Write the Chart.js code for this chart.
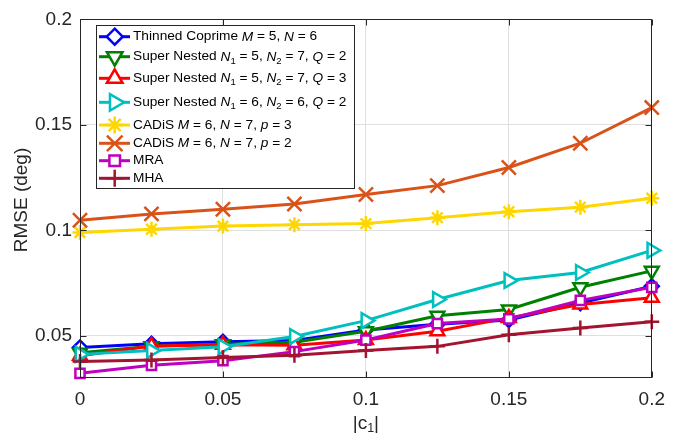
<!DOCTYPE html>
<html><head><meta charset="utf-8">
<script src="https://cdn.jsdelivr.net/npm/chart.js@4.4.1/dist/chart.umd.min.js"></script>
<style>html,body{margin:0;padding:0;background:#fff}canvas{display:block}</style>
</head><body>
<canvas id="c" width="675" height="439"></canvas>
<script>
// ---- data ----
const xValues = [0, 0.025, 0.05, 0.075, 0.1, 0.125, 0.15, 0.175, 0.2];
const thinnedCoprime = [0.0445, 0.0462, 0.0472, 0.0478, 0.0528, 0.0555, 0.0575, 0.0655, 0.0735];
const superNestedQ2 = [0.0420, 0.0450, 0.0460, 0.0470, 0.0522, 0.0595, 0.0625, 0.0730, 0.0808];
const superNestedQ3 = [0.0405, 0.0452, 0.0458, 0.0455, 0.0480, 0.0522, 0.0585, 0.0648, 0.0680];
const superNested66 = [0.0412, 0.0430, 0.0448, 0.0497, 0.0572, 0.0672, 0.0762, 0.0800, 0.0905];
const cadisP3 = [0.0990, 0.1005, 0.1020, 0.1027, 0.1032, 0.1060, 0.1088, 0.1110, 0.1152];
const cadisP2 = [0.1048, 0.1078, 0.1100, 0.1125, 0.1170, 0.1212, 0.1298, 0.1413, 0.1582];
const mra = [0.0322, 0.0360, 0.0382, 0.0425, 0.0480, 0.0558, 0.0580, 0.0668, 0.0730];
const mha = [0.0378, 0.0385, 0.0397, 0.0408, 0.0430, 0.0450, 0.0505, 0.0537, 0.0567];
const xTicks = [0, 0.05, 0.1, 0.15, 0.2];
const yTicks = [0.05, 0.1, 0.15, 0.2];
const xTitle = [['|c',''],['1','s'],['|','']];
const yTitle = 'RMSE (deg)';
// legend labels: [text, kind] kind: '' normal, 'i' italic, 's' subscript
const seriesLabels = [
  [['Thinned Coprime ',''],['M','i'],[' = 5, ',''],['N','i'],[' = 6','']],
  [['Super Nested ',''],['N','i'],['1','s'],[' = 5, ',''],['N','i'],['2','s'],[' = 7, ',''],['Q','i'],[' = 2','']],
  [['Super Nested ',''],['N','i'],['1','s'],[' = 5, ',''],['N','i'],['2','s'],[' = 7, ',''],['Q','i'],[' = 3','']],
  [['Super Nested ',''],['N','i'],['1','s'],[' = 6, ',''],['N','i'],['2','s'],[' = 6, ',''],['Q','i'],[' = 2','']],
  [['CADiS ',''],['M','i'],[' = 6, ',''],['N','i'],[' = 7, ',''],['p','i'],[' = 3','']],
  [['CADiS ',''],['M','i'],[' = 6, ',''],['N','i'],[' = 7, ',''],['p','i'],[' = 2','']],
  [['MRA','']],
  [['MHA','']]
];
const seriesValues = [thinnedCoprime, superNestedQ2, superNestedQ3, superNested66, cadisP3, cadisP2, mra, mha];

// ---- styles ----
const FONT = '"Liberation Sans", Arial, Helvetica, sans-serif';
const AX = '#262626';
const styles = [
  {color:'#0000FF', shape:'rectRot', rot:0, r:7},
  {color:'#008000', shape:'triangle', rot:180, r:8},
  {color:'#FF0000', shape:'triangle', rot:0, r:8},
  {color:'#00BFBF', shape:'triangle', rot:90, r:8.5},
  {color:'#FFD700', shape:'star', rot:0, r:7.5},
  {color:'#D95319', shape:'crossRot', rot:0, r:10},
  {color:'#BF00BF', shape:'rect', rot:0, r:6.5},
  {color:'#A2142F', shape:'cross', rot:0, r:7.5}
];

const datasets = seriesValues.map((vals, i) => ({
  data: vals.map((v, k) => ({x: xValues[k], y: v})),
  borderColor: styles[i].color,
  backgroundColor: styles[i].color,
  borderWidth: 3,
  pointStyle: styles[i].shape,
  rotation: styles[i].rot,
  pointRadius: styles[i].r,
  pointBorderWidth: 2.5,
  pointBackgroundColor: '#ffffff',
  pointBorderColor: styles[i].color,
  tension: 0,
  clip: false,
  order: seriesValues.length - i
}));

function drawMarker(ctx, st, x, y, r) {
  ctx.beginPath();
  const s60 = Math.sin(Math.PI/3);
  switch (st.shape) {
    case 'rectRot':
      ctx.moveTo(x, y-r); ctx.lineTo(x+r, y); ctx.lineTo(x, y+r); ctx.lineTo(x-r, y); ctx.closePath();
      ctx.fill(); ctx.stroke(); break;
    case 'triangle':
      if (st.rot === 180) { ctx.moveTo(x, y+r); ctx.lineTo(x-r*s60, y-r/2); ctx.lineTo(x+r*s60, y-r/2); }
      else if (st.rot === 90) { ctx.moveTo(x+r, y); ctx.lineTo(x-r/2, y-r*s60); ctx.lineTo(x-r/2, y+r*s60); }
      else { ctx.moveTo(x, y-r); ctx.lineTo(x+r*s60, y+r/2); ctx.lineTo(x-r*s60, y+r/2); }
      ctx.closePath(); ctx.fill(); ctx.stroke(); break;
    case 'star': {
      const d = r*Math.SQRT1_2;
      ctx.moveTo(x-r, y); ctx.lineTo(x+r, y); ctx.moveTo(x, y-r); ctx.lineTo(x, y+r);
      ctx.moveTo(x-d, y-d); ctx.lineTo(x+d, y+d); ctx.moveTo(x-d, y+d); ctx.lineTo(x+d, y-d);
      ctx.stroke(); break; }
    case 'crossRot': {
      const d = r*Math.SQRT1_2;
      ctx.moveTo(x-d, y-d); ctx.lineTo(x+d, y+d); ctx.moveTo(x-d, y+d); ctx.lineTo(x+d, y-d);
      ctx.stroke(); break; }
    case 'rect': {
      const h = r*Math.SQRT1_2;
      ctx.rect(x-h, y-h, 2*h, 2*h); ctx.fill(); ctx.stroke(); break; }
    case 'cross':
      ctx.moveTo(x-r, y); ctx.lineTo(x+r, y); ctx.moveTo(x, y-r); ctx.lineTo(x, y+r);
      ctx.stroke(); break;
  }
}

function drawRich(ctx, segs, x, y, size, subSize, subDy, align) {
  let total = 0;
  for (const [t, k] of segs) {
    ctx.font = (k==='i' ? 'italic ' : '') + (k==='s' ? subSize : size) + 'px ' + FONT;
    total += ctx.measureText(t).width;
  }
  if (align === 'center') x -= total/2;
  for (const [t, k] of segs) {
    ctx.font = (k==='i' ? 'italic ' : '') + (k==='s' ? subSize : size) + 'px ' + FONT;
    ctx.fillText(t, x, y + (k==='s' ? subDy : 0));
    x += ctx.measureText(t).width;
  }
}

const framePlugin = {
  id: 'frame',
  afterDatasetsDraw(chart) {
    const ctx = chart.ctx, a = chart.chartArea;
    const sx = chart.scales.x, sy = chart.scales.y;
    ctx.save();
    ctx.strokeStyle = AX; ctx.lineWidth = 1;
    const L = Math.round(a.left)+0.5, R = Math.round(a.right)-0.5, T = Math.round(a.top)+0.5, B = Math.round(a.bottom)-0.5;
    ctx.strokeRect(L, T, R-L, B-T);
    ctx.beginPath();
    const tl = 6;
    for (const v of xTicks) {
      const px = Math.round(sx.getPixelForValue(v)) + 0.5;
      ctx.moveTo(px, B); ctx.lineTo(px, B - tl);
      ctx.moveTo(px, T); ctx.lineTo(px, T + tl);
    }
    for (const v of yTicks) {
      const py = Math.round(sy.getPixelForValue(v)) + 0.5;
      ctx.moveTo(L, py); ctx.lineTo(L + tl, py);
      ctx.moveTo(R, py); ctx.lineTo(R - tl, py);
    }
    ctx.stroke();

    // legend
    const box = {x: 96, y: 25, w: 258, h: 163};
    ctx.fillStyle = '#ffffff';
    ctx.fillRect(box.x, box.y, box.w, box.h);
    ctx.strokeRect(box.x + 0.5, box.y + 0.5, box.w, box.h);
    const rowOffsets = [11.7, 31.7, 53.3, 77.3, 100, 118.3, 135.7, 153.3];
    ctx.textBaseline = 'middle'; ctx.textAlign = 'left';
    seriesLabels.forEach((segs, i) => {
      const st = styles[i];
      const cy = box.y + rowOffsets[i];
      ctx.strokeStyle = st.color; ctx.lineWidth = 3;
      ctx.beginPath(); ctx.moveTo(box.x + 3, cy); ctx.lineTo(box.x + 34, cy); ctx.stroke();
      ctx.fillStyle = '#ffffff'; ctx.lineWidth = 2.5;
      drawMarker(ctx, st, box.x + 18.7, cy, st.r + 1);
      ctx.fillStyle = '#000000';
      drawRich(ctx, segs, box.x + 37, cy, 13.7, 9.5, 4.5, 'left');
    });

    // axis titles
    ctx.fillStyle = AX;
    ctx.textBaseline = 'middle';
    drawRich(ctx, xTitle, (a.left + a.right)/2, 424, 19, 12.5, 5, 'center');
    ctx.save();
    ctx.translate(22, 200);
    ctx.rotate(-Math.PI/2);
    ctx.textAlign = 'center';
    ctx.font = '19px ' + FONT;
    ctx.fillText(yTitle, 0, 0);
    ctx.restore();
    ctx.restore();
  }
};

const fmt = v => String(+(+v).toFixed(3));

new Chart(document.getElementById('c'), {
  type: 'line',
  data: { datasets },
  options: {
    responsive: false,
    animation: false,
    devicePixelRatio: 1,
    layout: { padding: { left: 0, right: 20, top: 16, bottom: 0 } },
    plugins: { legend: { display: false }, tooltip: { enabled: false } },
    scales: {
      x: {
        type: 'linear', min: 0, max: 0.2,
        afterBuildTicks: s => { s.ticks = xTicks.map(v => ({value: v})); },
        afterFit: s => { s.height = 61; },
        ticks: { color: AX, font: { family: FONT, size: 19 }, padding: 10, maxRotation: 0, callback: fmt },
        grid: { color: '#dfdfdf', lineWidth: 1, drawTicks: false },
        border: { display: false }
      },
      y: {
        type: 'linear', min: 0.03, max: 0.2,
        afterBuildTicks: s => { s.ticks = yTicks.map(v => ({value: v})); },
        afterFit: s => { s.width = 80; },
        ticks: { color: AX, font: { family: FONT, size: 19 }, padding: 8, callback: fmt },
        grid: { color: '#dfdfdf', lineWidth: 1, drawTicks: false },
        border: { display: false }
      }
    }
  },
  plugins: [framePlugin]
});
</script>
</body></html>
